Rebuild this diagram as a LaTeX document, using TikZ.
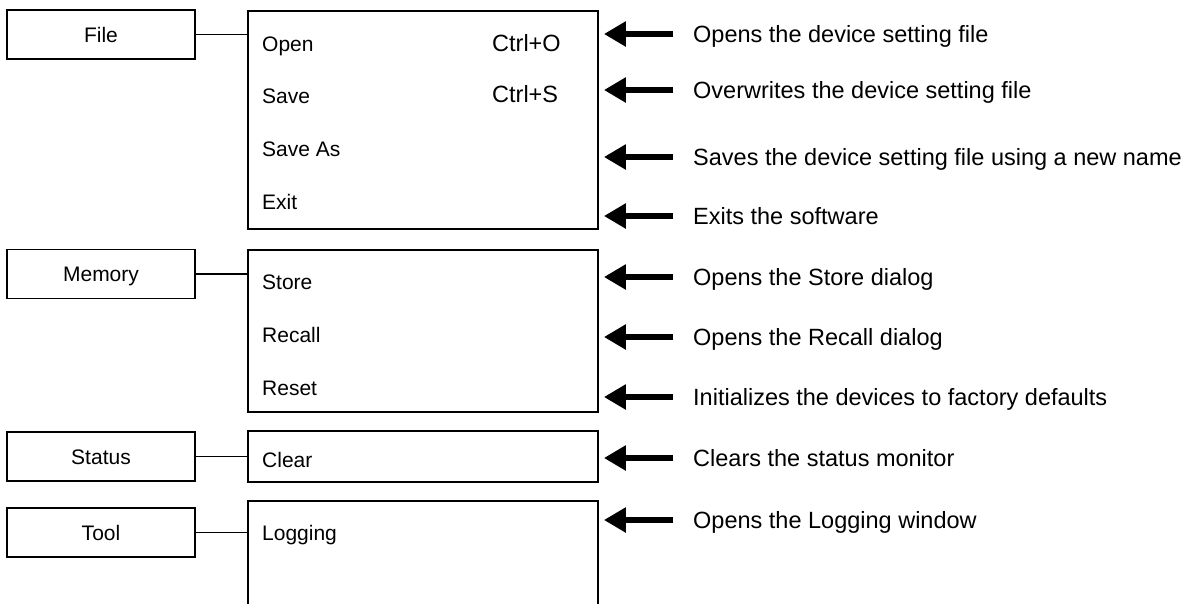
\documentclass[tikz,border=0pt]{standalone}
\usepackage{fontspec}
\setmainfont{Liberation Sans}
\usetikzlibrary{positioning, arrows.meta}

\begin{document}
\begin{tikzpicture}[
  x=1pt, y=-1pt,
  menuhead/.style={draw,line width=1.8pt,minimum width=188pt,minimum height=49pt,inner sep=0pt,
    font=\fontsize{21}{25}\selectfont,text height=15pt,text depth=0pt},
  menu/.style={draw,line width=1.8pt,minimum width=350pt,inner sep=0pt},
  entry/.style={anchor=west,inner sep=0pt,font=\fontsize{21}{25}\selectfont,text height=15pt,text depth=0pt},
  shortcut/.style={anchor=west,inner sep=0pt,font=\fontsize{23.5}{28}\selectfont,text height=16.8pt,text depth=0pt},
  desc/.style={shortcut},
  link/.style={line width=1.3pt},
  fat/.style={line width=6pt,-{Triangle[length=22pt,width=24pt]},shorten <=20pt,shorten >=5pt}
]
\useasboundingbox (0,0) rectangle (1193,603);

% menu titles
\node[menuhead] (file)   at (101,34.5)  {File};
\node[menuhead] (memory) at (101,274)   {Memory};
\node[menuhead] (status) at (101,456.5) {Status};
\node[menuhead] (tool)   at (101,532.5) {Tool};

% drop-down lists (tool list runs off the page)
\node[menu, minimum height=218pt] (mfile) at (423,120)   {};
\node[menu, minimum height=162pt] (mmem)  at (423,331)   {};
\node[menu, minimum height=51pt]  (mstat) at (423,456.5) {};
\node[menu, minimum height=119pt] (mtool) at (423,560.5) {};

\draw[link] (file.east)   -- (file.east -| mfile.west);
\draw[link] (memory.east) -- (memory.east -| mmem.west);
\draw[link] (status.east) -- (status.east -| mstat.west);
\draw[link] (tool.east)   -- (tool.east -| mtool.west);

% entries
\node[entry] (open)    at (262,43.5)  {Open};
\node[entry] (save)    at (262,95.5)  {Save};
\node[entry] (saveas)  at (262,148.5) {Save As};
\node[entry] (exit)    at (262,202)   {Exit};
\node[entry] (store)   at (262,282)   {Store};
\node[entry] (recall)  at (262,335)   {Recall};
\node[entry] (reset)   at (262,388)   {Reset};
\node[entry] (clear)   at (262,459.5) {Clear};
\node[entry] (logging) at (262,533)   {Logging};

\node[shortcut] (ctrlo) at (492,43.5) {Ctrl+O};
\node[shortcut] (ctrls) at (492,94)   {Ctrl+S};

% what each entry does
\node[desc] (dopen)   at (693,34)  {Opens the device setting file};
\node[desc] (dsave)   at (693,90)  {Overwrites the device setting file};
\node[desc] (dsaveas) at (693,157) {Saves the device setting file using a new name};
\node[desc] (dexit)   at (693,216) {Exits the software};
\node[desc] (dstore)  at (693,277) {Opens the Store dialog};
\node[desc] (drecall) at (693,337) {Opens the Recall dialog};
\node[desc] (dreset)  at (693,397) {Initializes the devices to factory defaults};
\node[desc] (dclear)  at (693,458) {Clears the status monitor};
\node[desc] (dlog)    at (693,520) {Opens the Logging window};

\draw[fat] (dopen.west)   -- (dopen.west -| mfile.east);
\draw[fat] (dsave.west)   -- (dsave.west -| mfile.east);
\draw[fat] (dsaveas.west) -- (dsaveas.west -| mfile.east);
\draw[fat] (dexit.west)   -- (dexit.west -| mfile.east);
\draw[fat] (dstore.west)  -- (dstore.west -| mmem.east);
\draw[fat] (drecall.west) -- (drecall.west -| mmem.east);
\draw[fat] (dreset.west)  -- (dreset.west -| mmem.east);
\draw[fat] (dclear.west)  -- (dclear.west -| mstat.east);
\draw[fat] (dlog.west)    -- (dlog.west -| mtool.east);
\end{tikzpicture}
\end{document}
